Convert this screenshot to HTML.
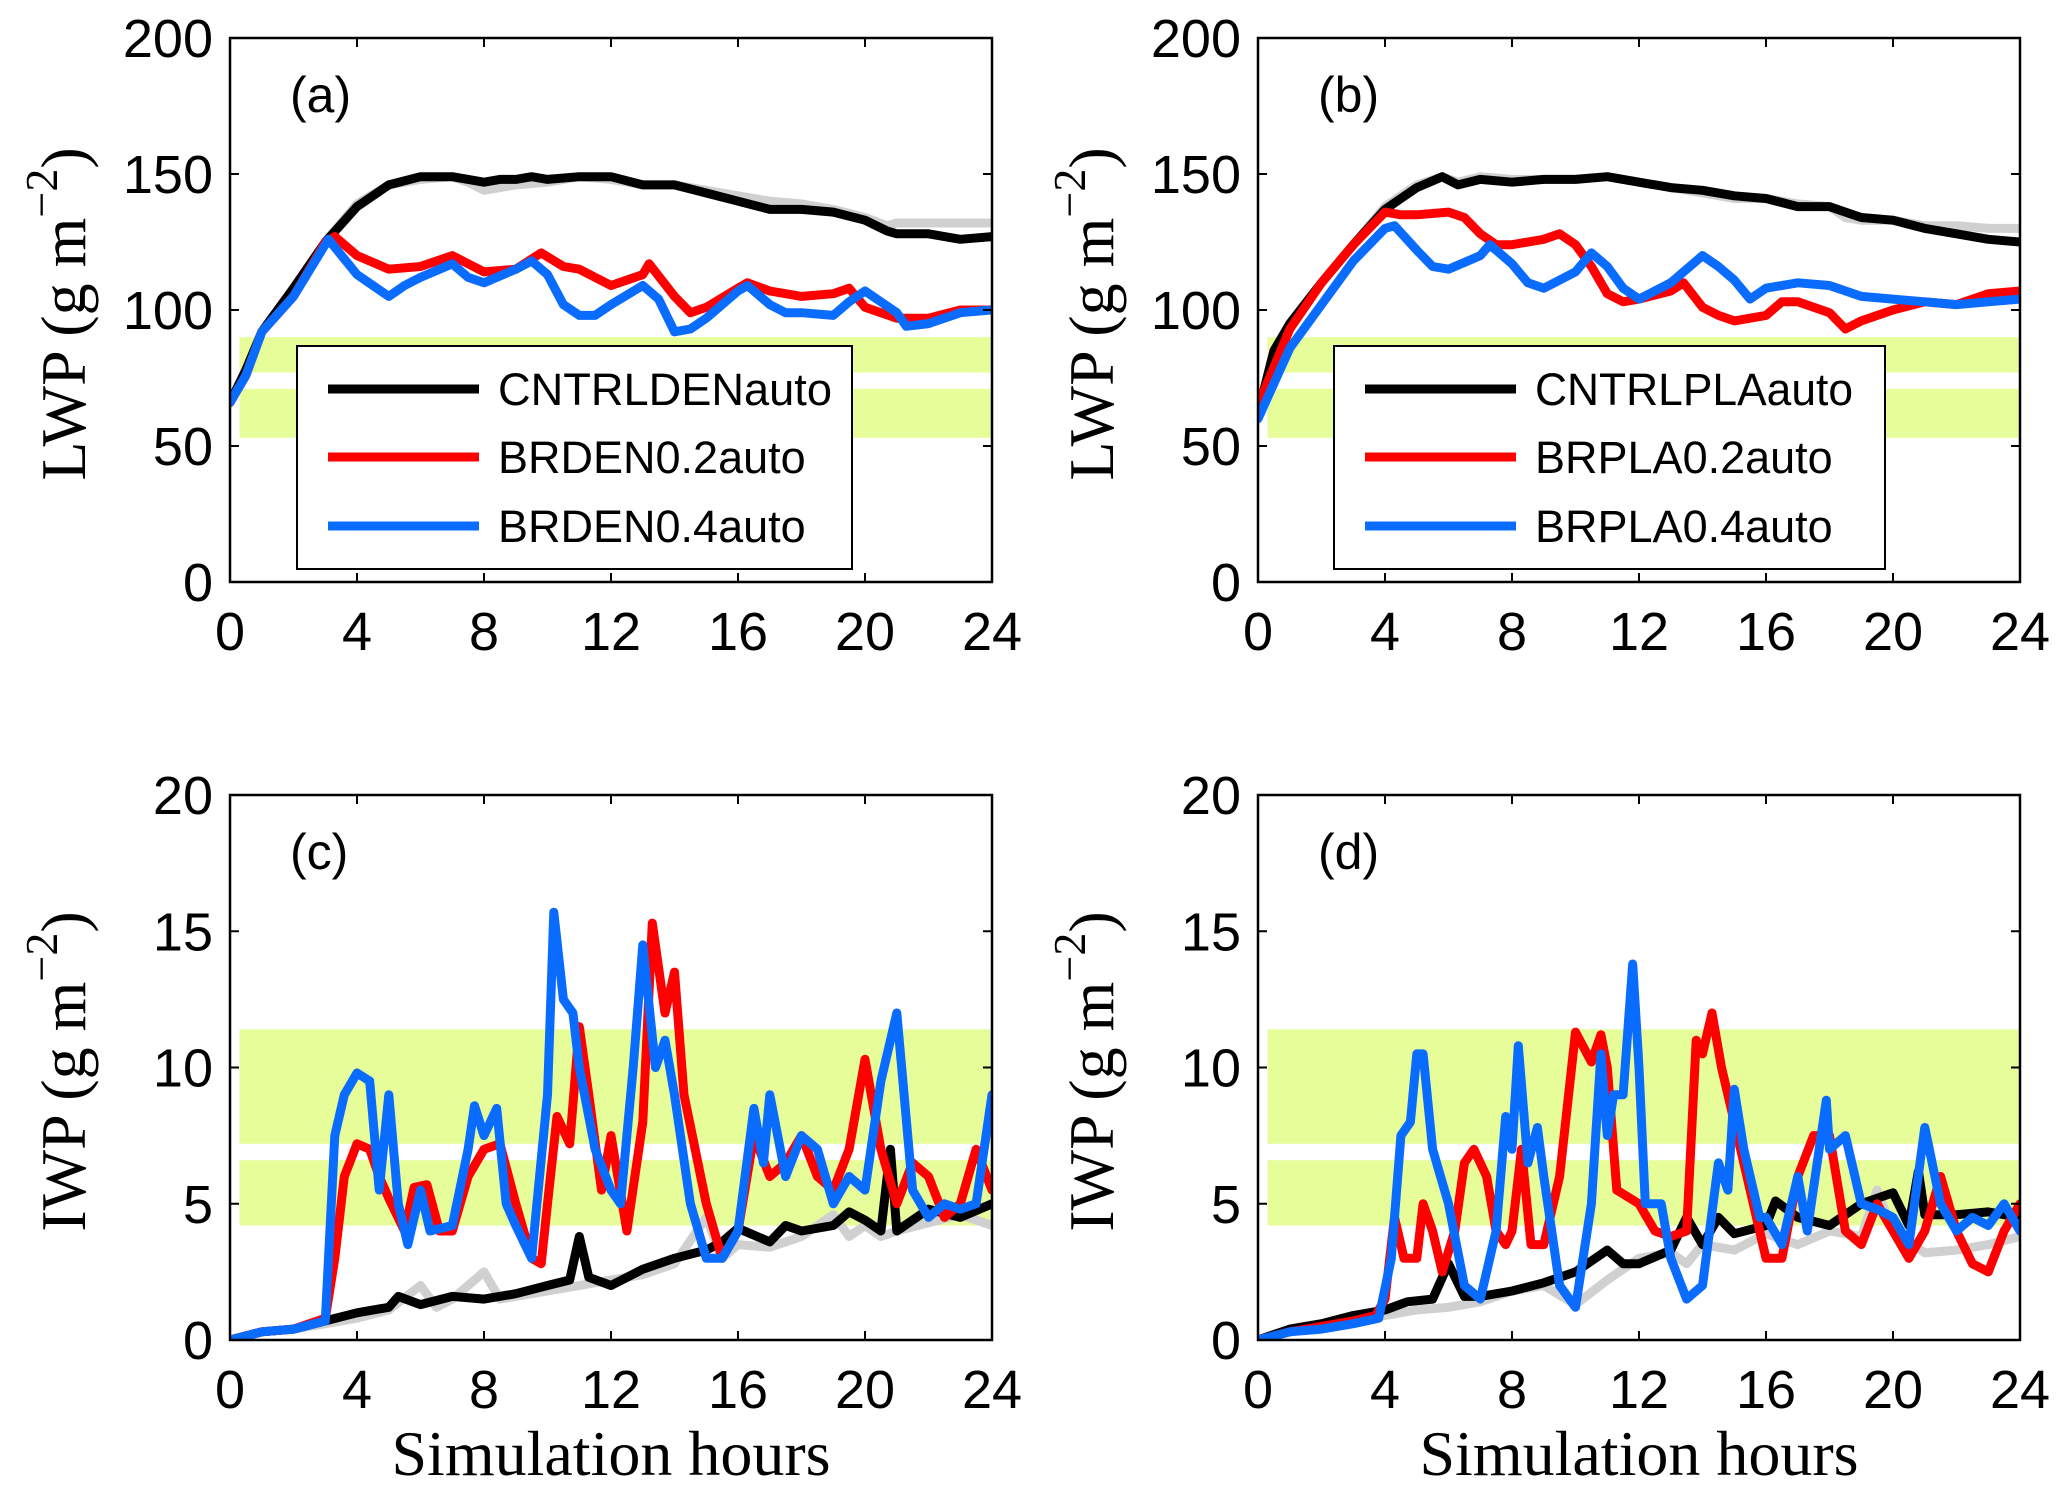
<!DOCTYPE html>
<html><head><meta charset="utf-8"><style>
html,body{margin:0;padding:0;background:#fff;}
svg{display:block;}
text{fill:#000;}
.tick{font-family:"Liberation Sans",Arial,sans-serif;font-size:54px;}
.ylab,.xlab{font-family:"Liberation Serif","Times New Roman",serif;font-size:64px;}
.plab{font-family:"Liberation Sans",Arial,sans-serif;font-size:50px;}
.leg{font-family:"Liberation Sans",Arial,sans-serif;font-size:45px;}
</style></head><body>
<svg id="fig" width="2067" height="1494" viewBox="0 0 2067 1494" xmlns="http://www.w3.org/2000/svg"></svg>
<script>
// ---- data ----
const xTicks = [0,4,8,12,16,20,24];
const lwpTicks = [0,50,100,150,200];
const iwpTicks = [0,5,10,15,20];
const lwpBands = [[77,90],[53,71]];
const iwpBands = [[7.2,11.4],[4.2,6.6]];

const aBlack = [[0,66],[0.5,78],[1,92],[1.5,100],[2,108],[3,125],[4,138],[5,146],[6,149],[7,149],[8,147],[8.5,148],[9,148],[9.5,149],[10,148],[11,149],[12,149],[13,146],[14,146],[15,143],[16,140],[17,137],[18,137],[19,136],[20,133],[20.7,129],[21,128],[22,128],[23,126],[24,127]];
const aGray = [[0,66],[0.5,78],[1,92],[1.5,100],[2,108],[3,125],[4,139],[5,146],[6,148],[7,149],[7.5,147],[8,144],[9,146],[10,147],[11,149],[12,148],[13,146],[14,146],[15,144],[16,142],[17,140],[18,139],[19,137],[20,134],[20.7,131],[21,132],[22,132],[23,132],[24,132]];
const aRed = [[0,66],[0.5,76],[1,92],[2,105],[3,125],[3.3,127],[4,120],[5,115],[6,116],[7,120],[8,114],[9,115],[9.8,121],[10.5,116],[11,115],[12,109],[13,113],[13.2,117],[14,105],[14.5,99],[15,101],[16,108],[16.3,110],[17,107],[18,105],[19,106],[19.5,108],[20,101],[21,97],[22,97],[23,100],[24,100]];
const aBlue = [[0,66],[0.5,76],[1,92],[2,105],[3.1,126],[4,113],[4.5,109],[5,105],[5.5,109],[6,112],[7,117],[7.5,112],[8,110],[9,115],[9.5,118],[10,113],[10.5,102],[11,98],[11.5,98],[12,102],[13,109],[13.5,104],[14,92],[14.5,93],[15,97],[16,107],[16.3,109],[17,102],[17.5,99],[18,99],[19,98],[19.5,103],[20,107],[21,99],[21.3,94],[22,95],[23,99],[24,100]];

const bBlack = [[0,62],[0.5,85],[1,95],[2,110],[3,124],[4,137],[5,145],[5.8,149],[6.3,146],[7,148],[8,147],[9,148],[10,148],[11,149],[12,147],[13,145],[14,144],[15,142],[16,141],[17,138],[18,138],[18.5,136],[19,134],[20,133],[21,130],[22,128],[23,126],[24,125]];
const bGray = [[0,62],[0.5,85],[1,95],[2,110],[3,124],[4,138],[5,146],[5.8,149],[6.3,147],[7,149],[8,148],[9,148],[10,148],[11,149],[12,147],[13,145],[14,143],[15,141],[16,141],[17,139],[18,138],[18.5,134],[19,133],[20,133],[21,131],[22,131],[23,130],[24,130]];
const bRed = [[0,65],[1,93],[2,110],[3,124],[4,136],[4.5,135],[5,135],[6,136],[6.5,134],[7,128],[7.5,124],[8,124],[9,126],[9.5,128],[10,124],[10.5,116],[11,106],[11.5,103],[12,104],[13,107],[13.4,110],[14,101],[14.5,98],[15,96],[16,98],[16.5,103],[17,103],[18,99],[18.5,93],[19,96],[20,100],[21,103],[22,102],[23,106],[24,107]];
const bBlue = [[0,60],[1,86],[2,102],[3,118],[4,130],[4.3,131],[5,122],[5.5,116],[6,115],[7,120],[7.3,124],[8,117],[8.5,110],[9,108],[10,114],[10.5,121],[11,116],[11.5,108],[12,104],[13,110],[14,120],[14.5,116],[15,111],[15.5,104],[16,108],[17,110],[18,109],[19,105],[20,104],[21,103],[22,102],[23,103],[24,104]];

const cBlack = [[0,0],[1,0.3],[2,0.4],[3,0.7],[4,1.0],[5,1.2],[5.3,1.6],[6,1.3],[7,1.6],[8,1.5],[9,1.7],[10,2.0],[10.7,2.2],[11,3.8],[11.3,2.3],[12,2.0],[13,2.6],[14,3.0],[15,3.3],[15.5,3.6],[16,4.1],[17,3.6],[17.5,4.2],[18,4.0],[19,4.2],[19.5,4.7],[20,4.4],[20.5,4.0],[20.8,7.0],[21,4.0],[22,4.8],[23,4.5],[24,5.0]];
const cGray = [[0,0],[1,0.3],[2,0.4],[3,0.6],[4,0.8],[5,1.1],[6,2.0],[6.5,1.2],[7,1.5],[8,2.5],[8.5,1.5],[9,1.6],[10,1.8],[11,2.0],[12,2.2],[13,2.4],[14,2.8],[15,4.5],[15.5,3.0],[16,3.5],[17,3.4],[18,3.8],[19,4.6],[19.5,3.8],[20,4.2],[20.5,3.8],[21,4.0],[22,4.3],[23,4.6],[24,4.2]];
const cRed = [[0,0],[1,0.3],[2,0.4],[3,0.8],[3.3,3.0],[3.6,6.0],[4,7.2],[4.4,7.0],[4.7,6.0],[5,5.2],[5.5,4.0],[5.8,5.6],[6.2,5.7],[6.6,4.0],[7,4.0],[7.5,6.0],[8,7.0],[8.5,7.2],[9,5.0],[9.5,3.0],[9.8,2.8],[10,5.0],[10.3,8.2],[10.7,7.2],[11,11.5],[11.3,9.0],[11.7,5.5],[12,7.5],[12.5,4.0],[13,8.0],[13.3,15.3],[13.7,12],[14,13.5],[14.3,9],[15,5],[15.5,3],[16,4.0],[16.5,7.5],[17,6.0],[17.5,6.5],[18,7.5],[18.5,6.0],[19,5.5],[19.5,7.0],[20,10.3],[20.5,7.0],[21,5.0],[21.5,6.5],[22,6.0],[22.5,4.5],[23,5.0],[23.5,7.0],[24,5.5]];
const cBlue = [[0,0],[1,0.3],[2,0.4],[3,0.7],[3.3,7.5],[3.6,9.0],[4,9.8],[4.4,9.5],[4.7,5.5],[5,9.0],[5.3,5.0],[5.6,3.5],[6,5.5],[6.3,4.0],[7,4.2],[7.5,7.0],[7.7,8.6],[8,7.5],[8.4,8.5],[8.7,5.0],[9,4.2],[9.5,3.0],[10,9.0],[10.2,15.7],[10.5,12.5],[10.8,12.0],[11,10.0],[11.5,7.0],[12,5.5],[12.3,5.0],[12.7,10.0],[13,14.5],[13.4,10.0],[13.7,11],[14,9.0],[14.5,5.0],[15,3.0],[15.5,3.0],[16,4.0],[16.5,8.5],[16.8,6.5],[17,9.0],[17.5,6.0],[18,7.5],[18.5,7.0],[19,5.0],[19.5,6.0],[20,5.5],[20.5,9.5],[21,12.0],[21.5,5.5],[22,4.5],[22.5,5.0],[23,4.8],[23.5,5.0],[24,9.0]];

const dBlack = [[0,0],[1,0.4],[2,0.6],[3,0.9],[4,1.1],[4.7,1.4],[5.5,1.5],[6,2.8],[6.5,1.6],[7,1.6],[8,1.8],[9,2.1],[10,2.5],[11,3.3],[11.5,2.8],[12,2.8],[13,3.3],[13.5,4.5],[14,3.5],[14.5,4.5],[15,3.9],[16,4.2],[16.3,5.1],[17,4.5],[18,4.2],[19,5.0],[20,5.4],[20.5,4.2],[20.8,6.2],[21,4.6],[22,4.6],[23,4.7],[24,4.5]];
const dGray = [[0,0],[1,0.3],[2,0.5],[3,0.7],[4,0.9],[5,1.1],[6,1.2],[7,1.4],[8,1.8],[9,2.0],[10,1.3],[11,2.2],[12,3.0],[13,3.2],[13.5,2.8],[14,3.5],[15,3.3],[16,3.9],[17,3.5],[18,4.0],[19,3.8],[19.5,5.5],[20,4.0],[21,3.2],[22,3.3],[23,3.5],[24,3.8]];
const dRed = [[0,0],[1,0.3],[2,0.5],[3,0.7],[3.7,0.9],[4,1.5],[4.3,4.5],[4.6,3.0],[5,3.0],[5.2,5.0],[5.5,4.0],[5.8,2.5],[6.2,4.0],[6.5,6.5],[6.8,7.0],[7.2,6.0],[7.5,4.0],[7.8,3.5],[8,4.0],[8.3,7.0],[8.6,3.5],[9,3.5],[9.5,6.0],[10,11.3],[10.5,10.2],[10.8,11.2],[11,10.0],[11.3,5.5],[12,5.0],[12.5,4.0],[13,3.8],[13.5,4.0],[13.8,11.0],[14,10.5],[14.3,12.0],[14.6,10.0],[15,8.0],[15.5,5.5],[16,3.0],[16.5,3.0],[17,6.0],[17.5,7.5],[18,7.5],[18.5,4.0],[19,3.5],[19.5,5.0],[20,4.0],[20.5,3.0],[21,4.0],[21.5,6.0],[22,4.0],[22.5,2.8],[23,2.5],[23.5,4.0],[24,5.0]];
const dBlue = [[0,0],[1,0.3],[2,0.4],[3,0.6],[3.8,0.8],[4.2,3],[4.5,7.5],[4.8,8],[5,10.5],[5.2,10.5],[5.5,7],[6,5],[6.5,2],[7,1.5],[7.5,4],[7.8,8.2],[8,7],[8.2,10.8],[8.5,6.5],[8.8,7.8],[9,6],[9.5,2],[10,1.2],[10.5,5],[10.8,10.5],[11,7.5],[11.2,9],[11.5,9],[11.8,13.8],[12,10],[12.2,5],[12.7,5],[13,3],[13.5,1.5],[14,2],[14.5,6.5],[14.8,5.5],[15,9.2],[15.3,7],[15.8,4.5],[16,4.5],[16.5,3.5],[17,6],[17.3,4],[17.9,8.8],[18,7],[18.5,7.5],[19,5],[19.5,4.8],[20,4.5],[20.5,3.5],[21,7.8],[21.5,5],[22,4],[22.5,4.5],[23,4.2],[23.5,5],[24,4]];

const legendA = ["CNTRLDENauto","BRDEN0.2auto","BRDEN0.4auto"];
const legendB = ["CNTRLPLAauto","BRPLA0.2auto","BRPLA0.4auto"];

// ---- drawing ----
const NS = "http://www.w3.org/2000/svg";
const svg = document.getElementById('fig');
const COLORS = {gray:"#d0d0d0", black:"#000", red:"#ff0000", blue:"#0a6cff"};
function mk(tag, attrs, parent){
  const e = document.createElementNS(NS, tag);
  for (const k in attrs) e.setAttribute(k, attrs[k]);
  (parent||svg).appendChild(e);
  return e;
}
function panel(key, L, T, R, B, ymax, yticks, bands, series, letter, ylabel, legend){
  const g = mk('g', {});
  
  
  const sx = v => L + v/24*(R-L);
  const sy = v => B - v/ymax*(B-T);
  bands.forEach((bd, i) => {
    const r = mk('rect', {x: sx(0.3), y: sy(bd[1]), width: R - sx(0.3), height: sy(bd[0]) - sy(bd[1]), fill: '#e6fd99'}, g);
    
    
  });
  const cp = mk('clipPath', {id: 'clip-' + key}, g);
  mk('rect', {x: L, y: T-10, width: R-L, height: B-T+10}, cp);
  series.forEach(s => {
    const d = s.data.map((p, i) => (i ? 'L' : 'M') + sx(p[0]).toFixed(1) + ',' + sy(p[1]).toFixed(1)).join('');
    const p = mk('path', {d: d, fill: 'none', stroke: COLORS[s.c], 'stroke-width': 9, 'stroke-linejoin': 'round', 'stroke-linecap': 'round', 'clip-path': 'url(#clip-' + key + ')'}, g);
    
    
  });
  const box = mk('rect', {x: L, y: T, width: R-L, height: B-T, fill: 'none', stroke: '#000', 'stroke-width': 2.5}, g);
  
  
  xTicks.forEach(t => {
    const x = sx(t);
    mk('line', {x1: x, y1: B, x2: x, y2: B-9, stroke: '#000', 'stroke-width': 2}, g);
    mk('line', {x1: x, y1: T, x2: x, y2: T+9, stroke: '#000', 'stroke-width': 2}, g);
    const tx = mk('text', {x: x, y: B+68, 'text-anchor': 'middle', class: 'tick'}, g);
    tx.textContent = t;
    
    
  });
  yticks.forEach(t => {
    const y = sy(t);
    mk('line', {x1: L, y1: y, x2: L+9, y2: y, stroke: '#000', 'stroke-width': 2}, g);
    mk('line', {x1: R, y1: y, x2: R-9, y2: y, stroke: '#000', 'stroke-width': 2}, g);
    const tx = mk('text', {x: L-17, y: y+19, 'text-anchor': 'end', class: 'tick'}, g);
    tx.textContent = t;
    
    
  });
  const pl = mk('text', {x: L+60, y: T+74, class: 'plab'}, g);
  pl.textContent = '(' + letter + ')';
  
  
  const cy = (T+B)/2 + 4;
  const yl = mk('text', {x: 0, y: 0, class: 'ylab', 'text-anchor': 'middle', transform: 'translate(' + (L-145) + ',' + cy + ') rotate(-90)'}, g);
  
  
  const t1 = mk('tspan', {}, yl); t1.textContent = ylabel + ' (g m';
  const t2 = mk('tspan', {dy: -28, 'font-size': '46'}, yl); t2.textContent = '\u22122';
  const t3 = mk('tspan', {dy: 28}, yl); t3.textContent = ')';
  if (legend) {
    const lg = mk('g', {}, g);
    
    
    const lx = legend.x;
    const lb = mk('rect', {x: lx, y: 346, width: legend.w, height: 223, fill: '#fff', stroke: '#000', 'stroke-width': 2}, lg);
    
    
    const cols = ['black','red','blue'];
    const rows = [389, 457, 526];
    legend.names.forEach((n, i) => {
      const e = mk('g', {}, lg);
      
      
      mk('line', {x1: lx+31, y1: rows[i], x2: lx+182, y2: rows[i], stroke: COLORS[cols[i]], 'stroke-width': 9}, e);
      const tt = mk('text', {x: lx+201, y: rows[i]+16, class: 'leg'}, e);
      if (i === 0) { tt.setAttribute('textLength', legend.tl); tt.setAttribute('lengthAdjust', 'spacingAndGlyphs'); }
      tt.textContent = n;
    });
  }
}
panel('a', 230, 38, 992, 582, 200, lwpTicks, lwpBands,
  [{c:'gray',data:aGray},{c:'black',data:aBlack},{c:'red',data:aRed},{c:'blue',data:aBlue}], 'a', 'LWP', {x:297, w:555, tl:334, names:legendA});
panel('b', 1258, 38, 2020, 582, 200, lwpTicks, lwpBands,
  [{c:'gray',data:bGray},{c:'black',data:bBlack},{c:'red',data:bRed},{c:'blue',data:bBlue}], 'b', 'LWP', {x:1334, w:551, tl:318, names:legendB});
panel('c', 230, 795, 992, 1340, 20, iwpTicks, iwpBands,
  [{c:'gray',data:cGray},{c:'black',data:cBlack},{c:'red',data:cRed},{c:'blue',data:cBlue}], 'c', 'IWP', null);
panel('d', 1258, 795, 2020, 1340, 20, iwpTicks, iwpBands,
  [{c:'gray',data:dGray},{c:'black',data:dBlack},{c:'red',data:dRed},{c:'blue',data:dBlue}], 'd', 'IWP', null);
[611, 1639].forEach(cx => {
  const xl = mk('text', {x: cx, y: 1475, 'text-anchor': 'middle', class: 'xlab'});
  xl.textContent = 'Simulation hours';
  
  
});
</script>
</body></html>
